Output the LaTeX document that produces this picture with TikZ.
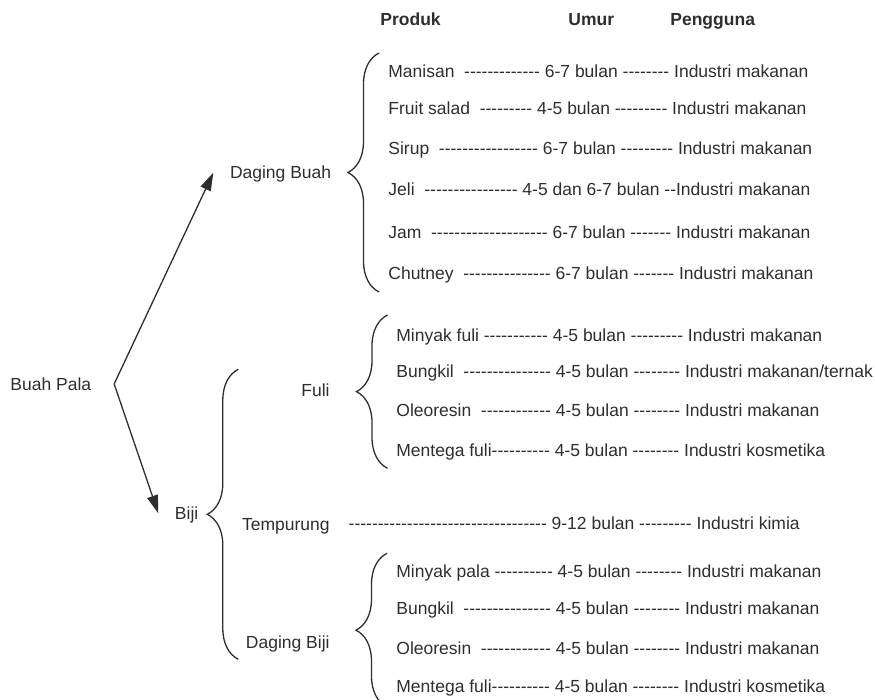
\documentclass[tikz,border=0pt]{standalone}
\usepackage{fontspec}
\setmainfont{Liberation Sans}[Ligatures=TeXOff]
\definecolor{plInk}{HTML}{2E2E2E}
\usetikzlibrary{arrows.meta,decorations.pathreplacing}

\begin{document}
\begin{tikzpicture}[x=0.5pt,y=-0.5pt,
  every node/.style={inner sep=0pt, text height=6.3pt, text depth=0pt, text=plInk,
    font=\fontsize{8.75pt}{10.5pt}\selectfont},
  prodrow/.style={anchor=west},
  lbl/.style={anchor=east},
  hdr/.style={anchor=west, font=\fontsize{8.75pt}{10.5pt}\selectfont\bfseries},
  tgt/.style={anchor=west, outer xsep=8.35pt},
  brc/.style={draw=plInk, line width=0.65pt, decorate, decoration={brace, amplitude=15.5pt}},
  arr/.style={draw=plInk, line width=0.65pt, -{Triangle[length=9pt, width=5.5pt]}}]
  \useasboundingbox (0,0) rectangle (875,700);

  % column heads
  \node[hdr] (hprod) at (380,19) {Produk};
  \node[hdr] (humur) at (568,19) {Umur};
  \node[hdr] (hpeng) at (670,19) {Pengguna};

  % tree labels
  \node[prodrow] (bp) at (10,384) {Buah Pala};
  \node[tgt] (db) at (213.3,172.7) {Daging Buah};
  \node[tgt] (biji) at (158.3,513.3) {Biji};
  \node[lbl] (fuli) at (330,390.7) {Fuli};
  \node[lbl] (tempurung) at (330,524) {Tempurung};
  \node[lbl] (dbiji) at (330,642.3) {Daging Biji};

  \coordinate (fork) at ([xshift=11.3pt]bp.east);
  \draw[arr] (fork) -- (db.west);
  \draw[arr] (fork) -- (biji.west);

  % braces
  \draw[brc] (379,292) -- (379,53);
  \draw[brc] (238.3,659.3) -- (238.3,369.3);
  \draw[brc] (387.5,468.3) -- (387.5,315);
  \draw[brc] (387,707) -- (387,553.3);

  % daging buah
  \node[prodrow] (r1) at (388,71.7) {Manisan~ ------------- 6-7 bulan -------- Industri makanan};
  \node[prodrow] (r2) at (388,108.3) {Fruit salad~ --------- 4-5 bulan --------- Industri makanan};
  \node[prodrow] (r3) at (388,148.3) {Sirup~ ----------------- 6-7 bulan --------- Industri makanan};
  \node[prodrow] (r4) at (388,189) {Jeli~ ---------------- 4-5 dan 6-7 bulan --Industri makanan};
  \node[prodrow] (r5) at (388,232.7) {Jam~ -------------------- 6-7 bulan ------- Industri makanan};
  \node[prodrow] (r6) at (388,273.3) {Chutney~ --------------- 6-7 bulan ------- Industri makanan};

  % fuli
  \node[prodrow] (f1) at (396,335) {Minyak fuli ----------- 4-5 bulan --------- Industri makanan};
  \node[prodrow] (f2) at (396,371.7) {Bungkil~ --------------- 4-5 bulan -------- Industri makanan/ternak};
  \node[prodrow] (f3) at (396,410) {Oleoresin~ ------------ 4-5 bulan -------- Industri makanan};
  \node[prodrow] (f4) at (396,450) {Mentega fuli---------- 4-5 bulan -------- Industri kosmetika};

  % tempurung
  \node[prodrow] (tp) at (348.3,523.3) {---------------------------------- 9-12 bulan --------- Industri kimia};

  % daging biji
  \node[prodrow] (b1) at (396,571.7) {Minyak pala ---------- 4-5 bulan -------- Industri makanan};
  \node[prodrow] (b2) at (396,608.3) {Bungkil~ --------------- 4-5 bulan -------- Industri makanan};
  \node[prodrow] (b3) at (396,648.3) {Oleoresin~ ------------ 4-5 bulan -------- Industri makanan};
  \node[prodrow] (b4) at (396,686.7) {Mentega fuli---------- 4-5 bulan -------- Industri kosmetika};
\end{tikzpicture}
\end{document}
